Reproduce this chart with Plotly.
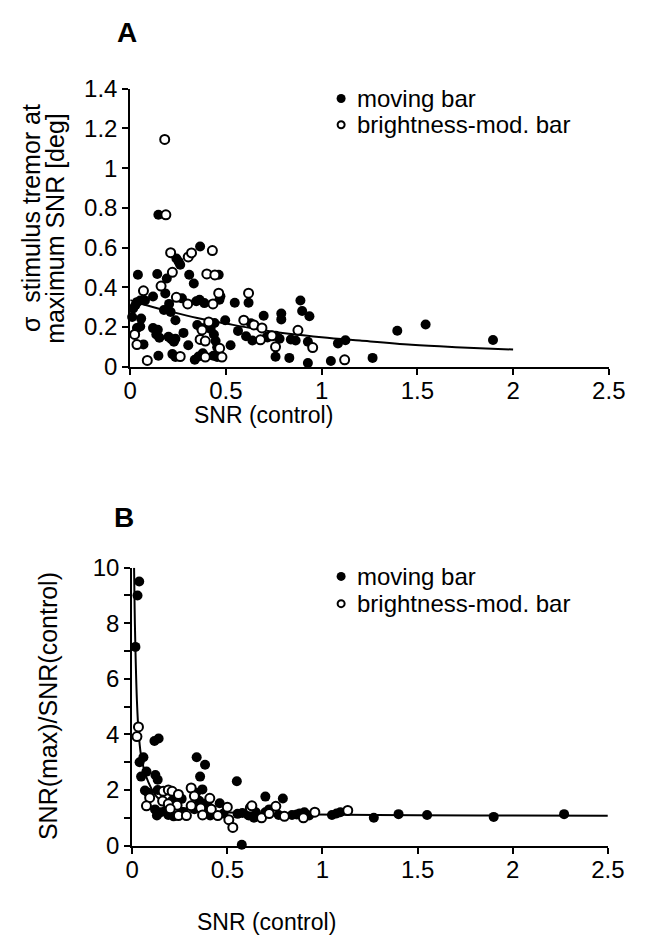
import plotly.graph_objects as go

# ---------------- Panel A data ----------------
a_moving_x = [0.147, 0.241, 0.253, 0.261, 0.365, 0.191, 0.04, 0.141, 0.308, 0.462, 0.332, 0.183, 0.119,
              0.035, 0.052, 0.077, 0.015, 0.027, 0.27, 0.203, 0.345, 0.362, 0.387, 0.466, 0.471, 0.546,
              0.618, 0.211, 0.176, 0.236, 0.01, 0.057, 0.35, 0.4, 0.42, 0.44, 0.496, 0.63, 0.697, 0.563,
              0.605, 0.638, 0.717, 0.035, 0.052, 0.069, 0.119, 0.144, 0.136, 0.152, 0.2, 0.215, 0.236,
              0.228, 0.278, 0.303, 0.37, 0.437, 0.446, 0.454, 0.434, 0.454, 0.524, 0.147, 0.22, 0.236,
              0.337, 0.357, 0.379, 0.889, 0.898, 0.936, 0.789, 0.789, 0.714, 0.76, 0.78, 0.839, 0.864,
              0.928, 0.759, 0.831, 0.928, 1.048, 1.085, 1.124, 1.266, 1.395, 1.543, 1.895]
a_moving_y = [0.765, 0.545, 0.529, 0.513, 0.605, 0.444, 0.463, 0.467, 0.463, 0.463, 0.419, 0.369, 0.353,
              0.325, 0.333, 0.333, 0.293, 0.31, 0.344, 0.316, 0.329, 0.337, 0.32, 0.337, 0.354, 0.322,
              0.322, 0.275, 0.285, 0.234, 0.25, 0.242, 0.21, 0.2, 0.19, 0.22, 0.234, 0.218, 0.256, 0.18,
              0.153, 0.132, 0.147, 0.194, 0.202, 0.112, 0.194, 0.186, 0.162, 0.146, 0.15, 0.138, 0.14,
              0.125, 0.17, 0.108, 0.194, 0.162, 0.129, 0.097, 0.055, 0.048, 0.108, 0.055, 0.063, 0.048,
              0.035, 0.051, 0.067, 0.333, 0.28, 0.254, 0.268, 0.238, 0.15, 0.155, 0.14, 0.137, 0.132,
              0.125, 0.05, 0.044, 0.018, 0.028, 0.117, 0.133, 0.044, 0.181, 0.212, 0.134]

a_bright_x = [0.186, 0.18, 0.211, 0.303, 0.32, 0.429, 0.22, 0.4, 0.442, 0.161, 0.069, 0.462, 0.241, 0.3,
              0.432, 0.618, 0.41, 0.593, 0.646, 0.688, 0.68, 0.023, 0.035, 0.365, 0.392, 0.375, 0.467,
              0.479, 0.089, 0.261, 0.392, 0.876, 0.74, 0.953, 0.759, 1.12]
a_bright_y = [0.765, 1.145, 0.574, 0.553, 0.573, 0.585, 0.475, 0.467, 0.462, 0.406, 0.382, 0.37, 0.349,
              0.316, 0.316, 0.37, 0.225, 0.234, 0.21, 0.195, 0.135, 0.162, 0.111, 0.137, 0.129, 0.185,
              0.092, 0.048, 0.031, 0.051, 0.048, 0.183, 0.155, 0.096, 0.1, 0.034]

a_fit_x = [0.0, 0.07, 0.2, 0.35, 0.5, 0.72, 1.0, 1.2, 1.47, 1.7, 2.0]
a_fit_y = [0.335, 0.313, 0.28, 0.245, 0.217, 0.18, 0.148, 0.131, 0.11, 0.098, 0.086]

# ---------------- Panel B data ----------------
b_moving_x = [0.037, 0.028, 0.017, 0.117, 0.139, 0.059, 0.039, 0.075, 0.047, 0.122, 0.134, 0.339, 0.383,
              0.357, 0.55, 0.067, 0.084, 0.134, 0.21, 0.26, 0.336, 0.369, 0.352, 0.378, 0.4, 0.46, 0.12,
              0.135, 0.13, 0.15, 0.175, 0.19, 0.218, 0.245, 0.27, 0.327, 0.37, 0.41, 0.48, 0.554, 0.579,
              0.613, 0.576, 0.7, 0.792, 0.61, 0.64, 0.65, 0.7, 0.72, 0.77, 0.84, 0.865, 0.88, 0.905,
              0.93, 1.05, 1.074, 1.094, 1.27, 1.40, 1.55, 1.9, 2.27]
b_moving_y = [9.5, 9.0, 7.15, 3.76, 3.85, 3.18, 3.0, 2.66, 2.48, 2.54, 2.37, 3.18, 2.91, 2.48, 2.31, 1.98,
              1.9, 2.0, 1.62, 1.68, 1.9, 2.02, 1.61, 1.5, 1.4, 1.52, 1.3, 1.15, 1.08, 1.2, 1.25, 1.1, 1.05,
              1.1, 1.2, 1.31, 1.2, 1.08, 1.15, 1.14, 1.17, 1.08, 0.03, 1.76, 1.69, 1.1, 1.0, 1.2, 1.2, 1.3,
              1.1, 1.1, 1.12, 1.15, 1.2, 1.08, 1.1, 1.15, 1.2, 1.0, 1.13, 1.1, 1.03, 1.13]

b_bright_x = [0.033, 0.025, 0.092, 0.075, 0.163, 0.19, 0.21, 0.243, 0.16, 0.19, 0.236, 0.31, 0.327, 0.408,
              0.416, 0.2, 0.243, 0.285, 0.31, 0.36, 0.37, 0.45, 0.5, 0.508, 0.529, 0.621, 0.629, 0.755,
              0.68, 0.72, 0.8, 0.9, 0.96, 1.133]
b_bright_y = [4.27, 3.92, 1.72, 1.43, 1.95, 2.0, 1.95, 1.84, 1.6, 1.5, 1.45, 2.07, 1.78, 1.7, 1.31, 1.32,
              1.08, 1.08, 1.43, 1.35, 1.1, 1.08, 1.38, 0.93, 0.65, 1.35, 1.43, 1.41, 1.0, 1.15, 1.05, 1.0,
              1.2, 1.26]

b_fit_x = [0.01, 0.013, 0.017, 0.025, 0.034, 0.05, 0.084, 0.134, 0.218, 0.35, 0.6, 0.955, 1.5, 2.0, 2.5]
b_fit_y = [10.0, 8.5, 7.1, 5.2, 4.06, 3.1, 2.3, 1.72, 1.43, 1.26, 1.17, 1.12, 1.09, 1.08, 1.07]

x_ticks = [0, 0.5, 1, 1.5, 2, 2.5]
x_labels = ["0", "0.5", "1", "1.5", "2", "2.5"]
a_y_ticks = [0, 0.2, 0.4, 0.6, 0.8, 1.0, 1.2, 1.4]
a_y_labels = ["0", "0.2", "0.4", "0.6", "0.8", "1", "1.2", "1.4"]
b_y_ticks = list(range(0, 11))
b_y_labels = ["0", "", "2", "", "4", "", "6", "", "8", "", "10"]

legend_labels = ["moving bar", "brightness-mod. bar"]

# ---------------- figure ----------------
W, H = 647, 944
FONT = "Arial, 'Liberation Sans', sans-serif"


def px(x):
    return x / W


def py(y):
    return 1 - y / H


fig = go.Figure()

filled = dict(symbol="circle", size=10, color="black", line=dict(width=0))
openm = dict(symbol="circle", size=9, color="white", line=dict(width=2, color="black"))

fig.add_trace(go.Scatter(x=a_fit_x, y=a_fit_y, mode="lines", line=dict(color="black", width=2, shape="spline"),
                         xaxis="x", yaxis="y", showlegend=False, cliponaxis=False))
fig.add_trace(go.Scatter(x=a_moving_x, y=a_moving_y, mode="markers", marker=filled,
                         xaxis="x", yaxis="y", showlegend=False, cliponaxis=False))
fig.add_trace(go.Scatter(x=a_bright_x, y=a_bright_y, mode="markers", marker=openm,
                         xaxis="x", yaxis="y", showlegend=False, cliponaxis=False))

fig.add_trace(go.Scatter(x=b_fit_x, y=b_fit_y, mode="lines", line=dict(color="black", width=2, shape="spline"),
                         xaxis="x2", yaxis="y2", showlegend=False, cliponaxis=False))
fig.add_trace(go.Scatter(x=b_moving_x, y=b_moving_y, mode="markers", marker=filled,
                         xaxis="x2", yaxis="y2", showlegend=False, cliponaxis=False))
fig.add_trace(go.Scatter(x=b_bright_x, y=b_bright_y, mode="markers", marker=openm,
                         xaxis="x2", yaxis="y2", showlegend=False, cliponaxis=False))

axis_common = dict(showline=True, linewidth=2, linecolor="black", ticks="outside", ticklen=6,
                   tickwidth=2, tickcolor="black", showgrid=False, zeroline=False,
                   tickfont=dict(family=FONT, size=24, color="black"), fixedrange=True)

fig.update_layout(
    width=W, height=H,
    margin=dict(l=0, r=0, t=0, b=0),
    paper_bgcolor="white", plot_bgcolor="white",
    showlegend=False,
    xaxis=dict(domain=[px(128), px(625)], range=[0, 2.5], tickvals=x_ticks, ticktext=x_labels,
               anchor="y", ticklabelstandoff=-4, **axis_common),
    yaxis=dict(domain=[py(363), py(77)], range=[0, 1.4], tickvals=a_y_ticks, ticktext=a_y_labels,
               anchor="x", **axis_common),
    xaxis2=dict(domain=[px(130), px(624)], range=[0, 2.5], tickvals=x_ticks, ticktext=x_labels,
                anchor="y2", ticklabelstandoff=-4, **axis_common),
    yaxis2=dict(domain=[py(856), py(570)], range=[0, 10], tickvals=b_y_ticks, ticktext=b_y_labels,
                anchor="x2", **axis_common),
)

ann = []
# panel labels
ann.append(dict(text="<b>A</b>", x=px(125), y=py(19), xref="paper", yref="paper", showarrow=False,
                font=dict(family=FONT, size=28, color="black"), xanchor="center", yanchor="middle"))
ann.append(dict(text="<b>B</b>", x=px(122), y=py(518), xref="paper", yref="paper", showarrow=False,
                font=dict(family=FONT, size=28, color="black"), xanchor="center", yanchor="middle"))
# axis titles
ann.append(dict(text="SNR (control)", x=px(266), y=py(413), xref="paper", yref="paper", showarrow=False,
                font=dict(family=FONT, size=23, color="black"), xanchor="center", yanchor="middle"))
ann.append(dict(text="SNR (control)", x=px(269), y=py(935), xref="paper", yref="paper", showarrow=False,
                font=dict(family=FONT, size=23, color="black"), xanchor="center", yanchor="middle"))
ann.append(dict(text="\u03c3  stimulus tremor at", x=px(25), y=py(210),
                xref="paper", yref="paper", showarrow=False, textangle=-90,
                font=dict(family=FONT, size=25, color="black"), xanchor="center", yanchor="middle"))
ann.append(dict(text="maximum SNR [deg]", x=px(49), y=py(221),
                xref="paper", yref="paper", showarrow=False, textangle=-90,
                font=dict(family=FONT, size=25, color="black"), xanchor="center", yanchor="middle"))
ann.append(dict(text="SNR(max)/SNR(control)", x=px(42), y=py(712), xref="paper", yref="paper",
                showarrow=False, textangle=-90,
                font=dict(family=FONT, size=25, color="black"), xanchor="center", yanchor="middle"))

# legends (manual)
shapes = []
for (ly1, ly2) in [(87, 114), (579, 607)]:
    for i, (ly, lab) in enumerate(zip([ly1, ly2], legend_labels)):
        ann.append(dict(text=lab, x=px(361), y=py(ly), xref="paper", yref="paper", showarrow=False,
                        font=dict(family=FONT, size=24, color="black"), xanchor="left", yanchor="middle"))
        if i == 0:
            shapes.append(dict(type="circle", xref="paper", yref="paper", xsizemode="pixel",
                               ysizemode="pixel", xanchor=px(347), yanchor=py(ly), x0=-4.5, x1=4.5,
                               y0=-4.5, y1=4.5, fillcolor="black", line=dict(width=0)))
        else:
            shapes.append(dict(type="circle", xref="paper", yref="paper", xsizemode="pixel",
                               ysizemode="pixel", xanchor=px(347), yanchor=py(ly), x0=-3.5, x1=3.5,
                               y0=-3.5, y1=3.5, fillcolor="white", line=dict(width=2, color="black")))

fig.update_layout(annotations=ann, shapes=shapes)

fig.write_html("out.html")
